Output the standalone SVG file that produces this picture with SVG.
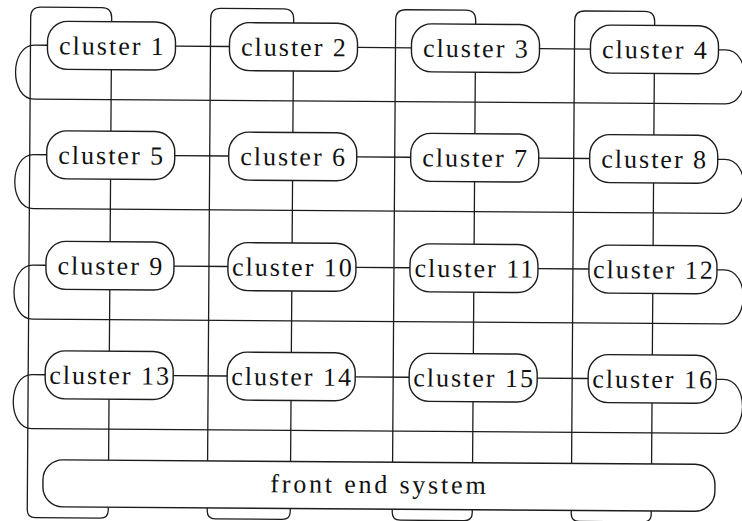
<svg xmlns="http://www.w3.org/2000/svg" width="742" height="521" viewBox="0 0 742 521">
  <style>
    .bg { fill: #ffffff; }
    .link { fill: none; stroke: #1c1c1c; stroke-width: 1.3; }
    .node rect { fill: #ffffff; stroke: #1c1c1c; stroke-width: 1.4; }
    text { font-family: 'Liberation Serif', 'Times New Roman', serif; font-size: 26px; letter-spacing: 2px; fill: #111111; text-anchor: middle; }
    #frontend text { letter-spacing: 2.8px; }
  </style>
  <rect class="bg" x="0" y="0" width="742" height="521"/>
  <!-- whole drawing sits slightly turned, as on the printed page -->
  <g transform="rotate(0.4 371 260)">
    <!-- connectors: row rings, column rings, mesh links -->
    <g id="links" class="link">
      <!-- row rings (closing each row back to its first node) -->
      <path d="M46 47.5 H33 C8 47.5 8 101.5 33 101.5 H724 C750 101.5 750 47.5 724 47.5 H717"/>
      <path d="M46 157 H33 C8 157 8 211 33 211 H724 C750 211 750 157 724 157 H717"/>
      <path d="M46 267.5 H33 C8 267.5 8 321.5 33 321.5 H724 C750 321.5 750 267.5 724 267.5 H717"/>
      <path d="M46 377 H33 C8 377 8 431 33 431 H724 C750 431 750 377 724 377 H717"/>
      <!-- column rings (front end back up to the top node of each column) -->
      <path d="M110 23.5 V19.5 Q110 9.5 100 9.5 H39 Q29 9.5 29 19.5 V512 Q29 520 37 520 H102 Q110 520 110 512 V509"/>
      <path d="M292 23.5 V19.5 Q292 9.5 282 9.5 H219 Q209 9.5 209 19.5 V512 Q209 520 217 520 H284 Q292 520 292 512 V509"/>
      <path d="M474 23.5 V19.5 Q474 9.5 464 9.5 H404 Q394 9.5 394 19.5 V512 Q394 520 402 520 H466 Q474 520 474 512 V509"/>
      <path d="M653 23.5 V19.5 Q653 9.5 643 9.5 H583 Q573 9.5 573 19.5 V512 Q573 520 581 520 H645 Q653 520 653 512 V509"/>
      <!-- horizontal links -->
      <path d="M174 47.5 H228 M356 47.5 H410 M538 47.5 H589"/>
      <path d="M174 157 H228 M356 157 H410 M538 157 H589"/>
      <path d="M174 267.5 H228 M356 267.5 H410 M538 267.5 H589"/>
      <path d="M174 377 H228 M356 377 H410 M538 377 H589"/>
      <!-- vertical links -->
      <path d="M110 71.5 V133 M110 181 V243.5 M110 291.5 V353 M110 401 V462"/>
      <path d="M292 71.5 V133 M292 181 V243.5 M292 291.5 V353 M292 401 V462"/>
      <path d="M474 71.5 V133 M474 181 V243.5 M474 291.5 V353 M474 401 V462"/>
      <path d="M653 71.5 V133 M653 181 V243.5 M653 291.5 V353 M653 401 V462"/>
    </g>

    <g id="frontend" class="node">
      <rect x="44.5" y="462" width="672" height="47" rx="20"/>
      <text x="381" y="493">front end system</text>
    </g>

    <g id="node1" class="node"><rect x="46" y="23.5" width="128" height="48" rx="20"/><text x="111" y="56.5">cluster 1</text></g>
    <g id="node2" class="node"><rect x="228" y="23.5" width="128" height="48" rx="20"/><text x="293" y="56.5">cluster 2</text></g>
    <g id="node3" class="node"><rect x="410" y="23.5" width="128" height="48" rx="20"/><text x="475" y="56.5">cluster 3</text></g>
    <g id="node4" class="node"><rect x="589" y="23.5" width="128" height="48" rx="20"/><text x="654" y="56.5">cluster 4</text></g>

    <g id="node5" class="node"><rect x="46" y="133" width="128" height="48" rx="20"/><text x="111" y="166">cluster 5</text></g>
    <g id="node6" class="node"><rect x="228" y="133" width="128" height="48" rx="20"/><text x="293" y="166">cluster 6</text></g>
    <g id="node7" class="node"><rect x="410" y="133" width="128" height="48" rx="20"/><text x="475" y="166">cluster 7</text></g>
    <g id="node8" class="node"><rect x="589" y="133" width="128" height="48" rx="20"/><text x="654" y="166">cluster 8</text></g>

    <g id="node9" class="node"><rect x="46" y="243.5" width="128" height="48" rx="20"/><text x="111" y="276.5">cluster 9</text></g>
    <g id="node10" class="node"><rect x="228" y="243.5" width="128" height="48" rx="20"/><text x="293" y="276.5">cluster 10</text></g>
    <g id="node11" class="node"><rect x="410" y="243.5" width="128" height="48" rx="20"/><text x="475" y="276.5">cluster 11</text></g>
    <g id="node12" class="node"><rect x="589" y="243.5" width="128" height="48" rx="20"/><text x="654" y="276.5">cluster 12</text></g>

    <g id="node13" class="node"><rect x="46" y="353" width="128" height="48" rx="20"/><text x="111" y="386">cluster 13</text></g>
    <g id="node14" class="node"><rect x="228" y="353" width="128" height="48" rx="20"/><text x="293" y="386">cluster 14</text></g>
    <g id="node15" class="node"><rect x="410" y="353" width="128" height="48" rx="20"/><text x="475" y="386">cluster 15</text></g>
    <g id="node16" class="node"><rect x="589" y="353" width="128" height="48" rx="20"/><text x="654" y="386">cluster 16</text></g>
  </g>
</svg>
